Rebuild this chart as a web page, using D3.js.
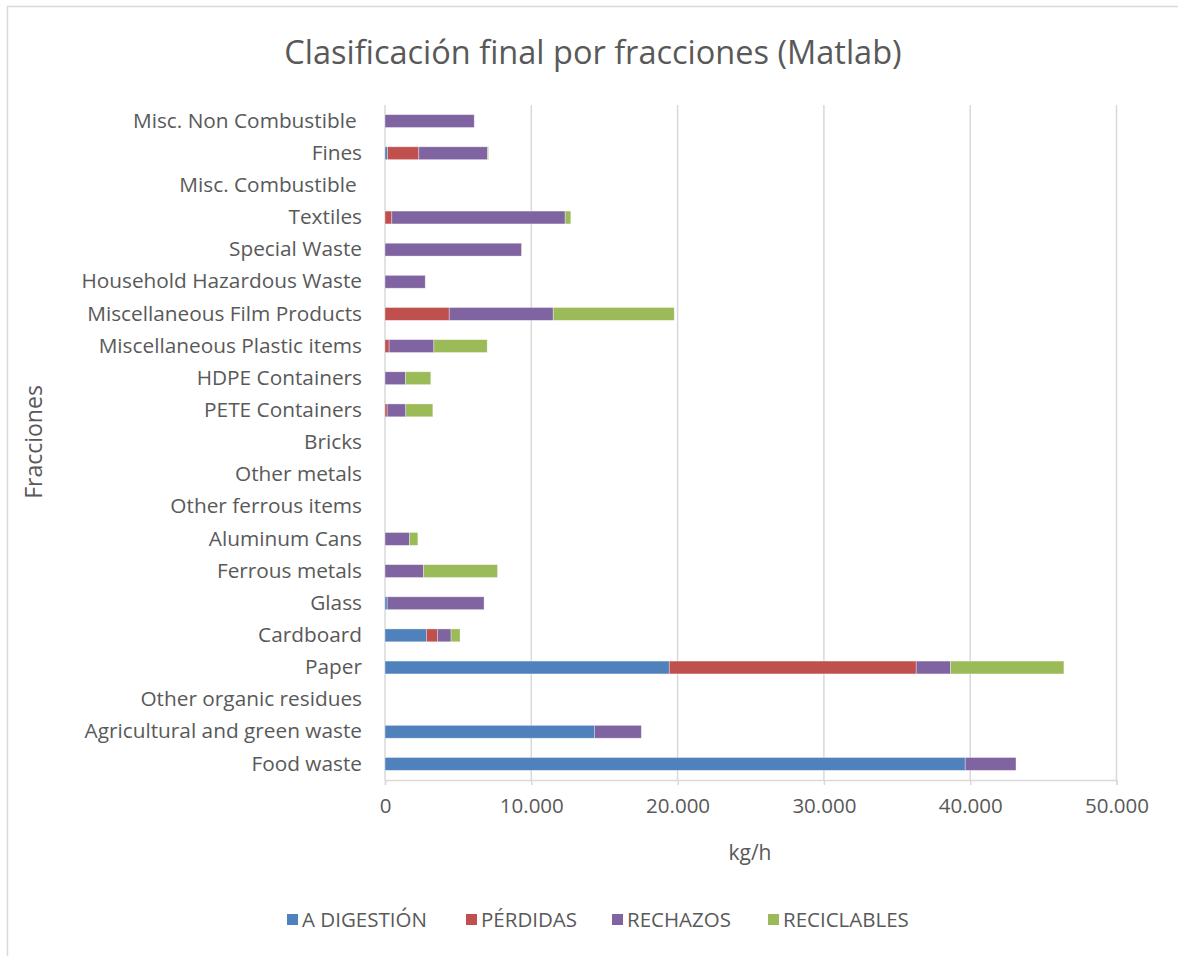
<!DOCTYPE html>
<html>
<head>
<meta charset="utf-8">
<script src="https://cdn.jsdelivr.net/npm/d3@7"></script>
<style>
  html, body { margin: 0; padding: 0; background: #fff; }
  svg { display: block; }
  text { font-family: "Open Sans", "Noto Sans", sans-serif; fill: #595959; }
</style>
</head>
<body>
<svg id="chart" width="1178" height="956"></svg>
<script>
// Fractions, listed from the bottom row of the chart upwards
const categories = [
  "Food waste", "Agricultural and green waste", "Other organic residues", "Paper",
  "Cardboard", "Glass", "Ferrous metals", "Aluminum Cans", "Other ferrous items",
  "Other metals", "Bricks", "PETE Containers", "HDPE Containers",
  "Miscellaneous Plastic items", "Miscellaneous Film Products",
  "Household Hazardous Waste", "Special Waste", "Textiles", "Misc. Combustible ",
  "Fines", "Misc. Non Combustible "
];

// kg/h per destination
const aDigestion  = [39660, 14310, 0, 19430, 2830, 150, 0, 0, 0, 0, 0, 0, 0, 0, 0, 0, 0, 0, 0, 170, 0];
const perdidas    = [0, 0, 0, 16880, 750, 0, 0, 0, 0, 0, 0, 150, 0, 280, 4390, 0, 0, 465, 0, 2140, 0];
const rechazos    = [3470, 3210, 0, 2350, 935, 6620, 2630, 1675, 0, 0, 0, 1270, 1400, 3060, 7110, 2750, 9330, 11850, 0, 4695, 6100];
const reciclables = [0, 0, 0, 7745, 615, 0, 5060, 570, 0, 0, 0, 1850, 1730, 3645, 8270, 0, 0, 385, 0, 70, 0];

const seriesNames  = ["A DIGESTIÓN", "PÉRDIDAS", "RECHAZOS", "RECICLABLES"];
const seriesColors = ["#4f81bd", "#c0504d", "#8064a2", "#9bbb59"];
const xTicks = [0, 10000, 20000, 30000, 40000, 50000];

const title = "Clasificación final por fracciones (Matlab)";
const xTitle = "kg/h";
const yTitle = "Fracciones";

const seriesValues = [aDigestion, perdidas, rechazos, reciclables];
const rows = categories.map((c, i) => {
  const r = { category: c };
  seriesNames.forEach((s, k) => { r[s] = seriesValues[k][i]; });
  return r;
});

const svg = d3.select("#chart");

// outer chart frame
svg.append("rect")
  .attr("x", 7.5).attr("y", 6.5)
  .attr("width", 1200).attr("height", 1000)
  .attr("fill", "#fff").attr("stroke", "#d9d9d9").attr("stroke-width", 1.5);

const plot = { left: 385, right: 1116.5, top: 105, bottom: 780 };

const x = d3.scaleLinear().domain([0, 50000]).range([plot.left, plot.right]);
const y = d3.scaleBand()
  .domain(categories.slice().reverse())
  .range([plot.top, plot.bottom])
  .paddingInner(0.6)
  .paddingOuter(0.3);

// vertical gridlines
svg.append("g")
  .selectAll("line")
  .data(xTicks)
  .join("line")
  .attr("x1", d => x(d)).attr("x2", d => x(d))
  .attr("y1", plot.top).attr("y2", plot.bottom)
  .attr("stroke", "#d9d9d9").attr("stroke-width", 1.5);

// stacked bars
const stack = d3.stack().keys(seriesNames);
const layers = stack(rows);

svg.append("g")
  .selectAll("g")
  .data(layers)
  .join("g")
  .attr("fill", (d, i) => seriesColors[i])
  .selectAll("rect")
  .data(d => d)
  .join("rect")
  .attr("x", d => x(d[0]))
  .attr("y", d => y(d.data.category))
  .attr("width", d => Math.max(0, x(d[1]) - x(d[0])))
  .attr("height", y.bandwidth())
  .attr("stroke", "#ffffff")
  .attr("stroke-opacity", 0.45)
  .attr("stroke-width", d => (d[1] - d[0]) > 0 ? 0.75 : 0);

// x axis
const xAxis = d3.axisBottom(x)
  .tickValues(xTicks)
  .tickSize(5)
  .tickPadding(13)
  .tickFormat(d => d3.format(",")(d).replace(/,/g, "."));

const gx = svg.append("g")
  .attr("transform", `translate(0,${plot.bottom})`)
  .call(xAxis);
gx.select(".domain").attr("stroke", "#d9d9d9").attr("stroke-width", 1.5);
gx.selectAll(".tick line").attr("stroke", "#d9d9d9").attr("stroke-width", 1.5);
gx.selectAll(".tick text")
  .attr("font-size", 20.5)
  .style("font-family", "'Open Sans', sans-serif")
  .attr("fill", "#595959");

// y axis (category labels only; trailing spaces kept)
const yAxis = d3.axisLeft(y).tickSize(0).tickPadding(23);
const gy = svg.append("g")
  .attr("transform", `translate(${plot.left},0)`)
  .call(yAxis);
gy.select(".domain").remove();
gy.selectAll(".tick text")
  .attr("font-size", 20.8)
  .style("font-family", "'Open Sans', sans-serif")
  .style("white-space", "pre")
  .attr("fill", "#595959");

// title
svg.append("text")
  .attr("x", 593).attr("y", 64)
  .attr("text-anchor", "middle")
  .attr("font-size", 32.5)
  .text(title);

// axis titles
svg.append("text")
  .attr("x", 750).attr("y", 860)
  .attr("text-anchor", "middle")
  .attr("font-size", 21)
  .text(xTitle);

svg.append("text")
  .attr("transform", "translate(42,442) rotate(-90)")
  .attr("text-anchor", "middle")
  .attr("font-size", 23)
  .text(yTitle);

// legend
const legendX = [287, 466, 612, 768];
const legend = svg.append("g")
  .selectAll("g")
  .data(seriesNames)
  .join("g")
  .attr("transform", (d, i) => `translate(${legendX[i]},920)`);
legend.append("rect")
  .attr("x", 0).attr("y", -6)
  .attr("width", 11).attr("height", 11)
  .attr("fill", (d, i) => seriesColors[i]);
legend.append("text")
  .attr("x", 15).attr("y", 0)
  .attr("dy", "0.35em")
  .attr("font-size", 20.5)
  .text(d => d);
</script>
</body>
</html>
